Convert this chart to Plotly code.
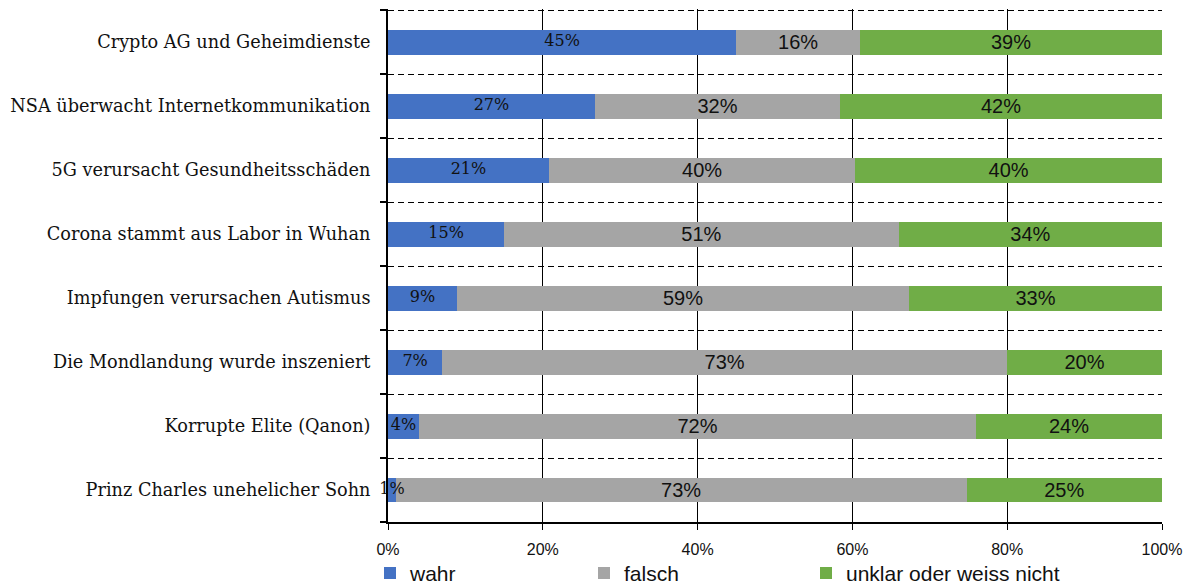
import plotly.graph_objects as go

categories = [
    "Crypto AG und Geheimdienste",
    "NSA überwacht Internetkommunikation",
    "5G verursacht Gesundheitsschäden",
    "Corona stammt aus Labor in Wuhan",
    "Impfungen verursachen Autismus",
    "Die Mondlandung wurde inszeniert",
    "Korrupte Elite (Qanon)",
    "Prinz Charles unehelicher Sohn",
]
wahr = [45, 27, 21, 15, 9, 7, 4, 1]
falsch = [16, 32, 40, 51, 59, 73, 72, 73]
unklar = [39, 42, 40, 34, 33, 20, 24, 25]
series_names = ["wahr", "falsch", "unklar oder weiss nicht"]
colors = ["#4472C4", "#A5A5A5", "#70AD47"]
x_ticks = [0, 20, 40, 60, 80, 100]
x_tick_labels = ["0%", "20%", "40%", "60%", "80%", "100%"]

ypos = list(range(len(categories)))
totals = [w + f + u for w, f, u in zip(wahr, falsch, unklar)]
wahr_centers = [w / t * 100 / 2 for w, t in zip(wahr, totals)]

legend_ids = ["legend", "legend2", "legend3"]

fig = go.Figure()
for name, vals, col, show_text, lg in zip(series_names, [wahr, falsch, unklar], colors,
                                          [False, True, True], legend_ids):
    fig.add_trace(go.Bar(
        y=ypos, x=vals, name=name, orientation="h",
        marker=dict(color=col, line=dict(width=0)),
        width=0.39,
        text=vals if show_text else None,
        texttemplate="%{text}%" if show_text else None,
        textposition="inside" if show_text else "none",
        insidetextanchor="middle",
        constraintext="none",
        textfont=dict(family="Liberation Sans, Arial", size=20, color="#111"),
        cliponaxis=False,
        legend=lg,
    ))

fig.add_trace(go.Scatter(
    y=ypos, x=wahr_centers, mode="text",
    text=[f"{v}%" for v in wahr],
    textfont=dict(family="DejaVu Serif", size=16, color="#111"),
    showlegend=False, cliponaxis=False, hoverinfo="skip",
))

boundaries = [i - 0.5 for i in range(len(categories) + 1)]

legend_font = dict(family="Liberation Sans, Arial", size=21, color="#111")
def leg(xpix):
    return dict(
        orientation="h", x=(xpix - 388) / 774, xanchor="left",
        y=-0.1, yanchor="middle", font=legend_font,
        bgcolor="rgba(0,0,0,0)", borderwidth=0,
    )

fig.update_layout(
    barmode="stack",
    barnorm="percent",
    width=1190, height=585,
    margin=dict(l=388, r=28, t=9, b=63, autoexpand=False),
    paper_bgcolor="white", plot_bgcolor="white",
    showlegend=True,
    legend=leg(370),
    legend2=leg(584),
    legend3=leg(806),
    xaxis=dict(
        range=[0, 100], tickvals=x_ticks, ticktext=x_tick_labels,
        showgrid=True, gridcolor="black", gridwidth=1,
        showline=True, linecolor="black", linewidth=2,
        ticks="outside", ticklen=6, tickwidth=1, tickcolor="black",
        tickfont=dict(family="Liberation Sans, Arial", size=16, color="#111"),
        ticklabelstandoff=6,
        zeroline=False, fixedrange=True,
    ),
    yaxis=dict(
        range=[len(categories) - 0.5, -0.52],
        tickvals=ypos, ticktext=categories,
        ticks="", showgrid=False, zeroline=False,
        showline=True, linecolor="black", linewidth=2,
        tickfont=dict(family="DejaVu Serif", size=17.7, color="#111"),
        ticklabelstandoff=12,
        minor=dict(
            tickvals=boundaries, showgrid=True, gridcolor="black",
            griddash="6px,4px", gridwidth=1,
            ticks="outside", ticklen=6, tickwidth=2, tickcolor="black",
        ),
        fixedrange=True,
    ),
)

fig.write_html("out.html")
